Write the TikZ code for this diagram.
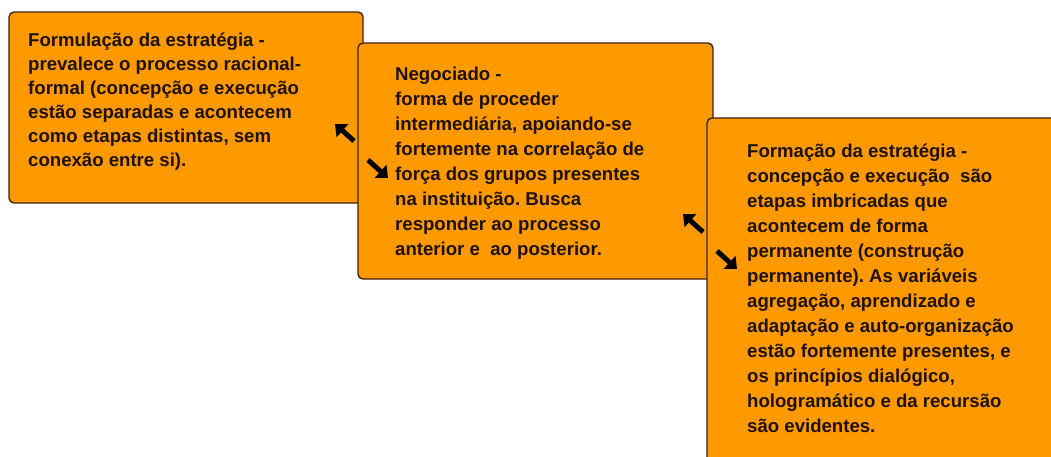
\documentclass[tikz,border=0pt]{standalone}
\usepackage{fontspec}
\setmainfont{Liberation Sans}
\frenchspacing
\usetikzlibrary{arrows.meta}
\definecolor{boxfill}{HTML}{FF9900}
\definecolor{boxline}{HTML}{3E240E}
\definecolor{txt}{HTML}{1E1208}
\tikzset{
  panel/.style={fill=boxfill, draw=boxline, line width=1.4pt, rounded corners=5pt},
  paneltext/.style={anchor=base west, align=left, inner sep=0pt, text=txt,
    font=\fontsize{18.6}{25}\selectfont\bfseries},
  paneltextA/.style={paneltext, font=\fontsize{18.6}{24}\selectfont\bfseries},
  bigarrow/.style={line width=5pt, -{Triangle[length=10pt,width=17pt]}, draw=black},
}
\begin{document}
\begin{tikzpicture}[x=1pt,y=-1pt]
\useasboundingbox (0,0) rectangle (1051,456);
\fill[white] (0,0) rectangle (1051,456);
% box 1 (anchor = baseline of the last line)
\draw[panel] (9,12) rectangle (363,203);
\node[paneltextA] (t1) at (28,166) {Formulação da estratégia -\\prevalece o processo racional-\\formal (concepção e execução\\estão separadas e acontecem\\como etapas distintas, sem\\conexão entre si).};
% box 2
\draw[panel] (358,43) rectangle (713,279);
\node[paneltext] (t2) at (395,255) {Negociado -\\forma de proceder\\intermediária, apoiando-se\\fortemente na correlação de\\força dos grupos presentes\\na instituição. Busca\\responder ao processo\\anterior e\ \ ao posterior.};
% box 3
\draw[panel] (707,118) rectangle (1065,470);
\node[paneltext] (t3) at (747,432) {Formação da estratégia -\\concepção e execução\ \ são\\etapas imbricadas que\\acontecem de forma\\permanente (construção\\permanente). As variáveis\\agregação, aprendizado e\\adaptação e auto-organização\\estão fortemente presentes, e\\os princípios dialógico,\\hologramático e da recursão\\são evidentes.};
% arrows
\coordinate (a1s) at (354,141); \coordinate (a1e) at (335,124);
\coordinate (a2s) at (368,160); \coordinate (a2e) at (388,178);
\coordinate (a3s) at (703,232); \coordinate (a3e) at (683,214);
\coordinate (a4s) at (717,251); \coordinate (a4e) at (737,269);
\draw[bigarrow] (a1s) -- (a1e);
\draw[bigarrow] (a2s) -- (a2e);
\draw[bigarrow] (a3s) -- (a3e);
\draw[bigarrow] (a4s) -- (a4e);
\end{tikzpicture}
\end{document}
